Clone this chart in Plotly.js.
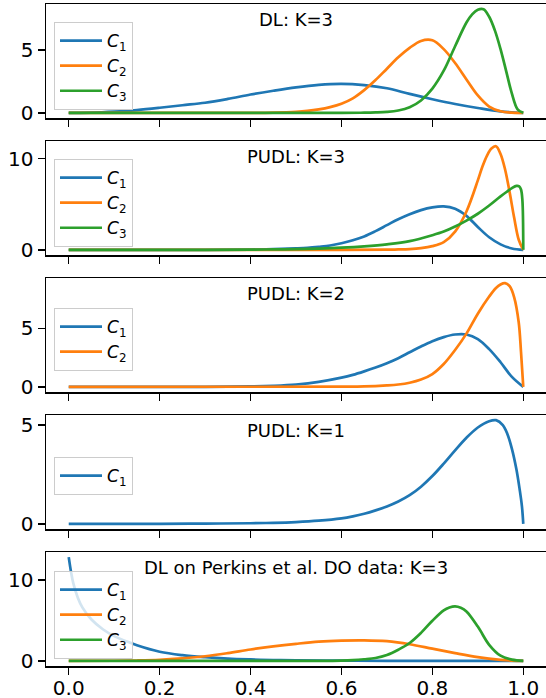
<!DOCTYPE html>
<html>
<head>
<meta charset="utf-8">
<script src="https://cdn.plot.ly/plotly-3.0.1.min.js"></script>
<style>html,body{margin:0;padding:0;background:#fff;}#chart{width:546px;height:698px;}</style>
</head>
<body>
<div id="chart"></div>
<script>
// ---------- Data ----------
const xTickVals = [0, 0.2, 0.4, 0.6, 0.8, 1.0];
const xTickText = ['0.0', '0.2', '0.4', '0.6', '0.8', '1.0'];
const seriesNames = ['<i>C</i><sub>1</sub>', '<i>C</i><sub>2</sub>', '<i>C</i><sub>3</sub>'];
const panelTitles = ['DL: K=3', 'PUDL: K=3', 'PUDL: K=2', 'PUDL: K=1', 'DL on Perkins et al. DO data: K=3'];
const yTickVals1 = [0, 5];
const yTickVals2 = [0, 10];
const yTickVals3 = [0, 5];
const yTickVals4 = [0, 5];
const yTickVals5 = [0, 10];

// Panel 1: DL K=3
const p1c1x = [0, 0.05, 0.1, 0.15, 0.2, 0.25, 0.3, 0.35, 0.4, 0.45, 0.5, 0.55, 0.6, 0.65, 0.7, 0.75, 0.8, 0.85, 0.9, 0.95, 1.0];
const p1c1y = [0, 0.01, 0.09, 0.22, 0.4, 0.6, 0.8, 1.1, 1.45, 1.75, 2.02, 2.22, 2.3, 2.2, 1.95, 1.5, 1.08, 0.7, 0.38, 0.11, 0];
const p1c2x = [0, 0.4, 0.45, 0.5, 0.525, 0.55, 0.575, 0.6, 0.625, 0.65, 0.675, 0.7, 0.725, 0.75, 0.775, 0.8, 0.825, 0.85, 0.875, 0.9, 0.925, 0.95, 0.975, 1.0];
const p1c2y = [0, 0, 0.02, 0.08, 0.15, 0.27, 0.45, 0.72, 1.15, 1.8, 2.6, 3.5, 4.4, 5.15, 5.7, 5.75, 5.05, 3.95, 2.65, 1.38, 0.5, 0.12, 0.01, 0];
const p1c3x = [0, 0.6, 0.65, 0.675, 0.7, 0.725, 0.75, 0.775, 0.8, 0.825, 0.85, 0.875, 0.8875, 0.9, 0.9125, 0.925, 0.9375, 0.95, 0.9625, 0.975, 0.9875, 1.0];
const p1c3y = [0, 0, 0.01, 0.03, 0.07, 0.18, 0.44, 0.98, 1.92, 3.34, 5.28, 7.16, 7.81, 8.18, 8.22, 7.62, 6.54, 5.05, 3.29, 1.52, 0.28, 0];

// Panel 2: PUDL K=3
const p2c1x = [0, 0.3, 0.4, 0.45, 0.5, 0.525, 0.55, 0.575, 0.6, 0.625, 0.65, 0.675, 0.7, 0.725, 0.75, 0.775, 0.8, 0.825, 0.85, 0.875, 0.9, 0.925, 0.95, 0.975, 1.0];
const p2c1y = [0, 0, 0.03, 0.08, 0.16, 0.22, 0.33, 0.47, 0.72, 1.05, 1.47, 2.05, 2.7, 3.35, 3.9, 4.35, 4.65, 4.76, 4.5, 3.72, 2.5, 1.38, 0.6, 0.15, 0];
const p2c2x = [0, 0.6, 0.7, 0.725, 0.75, 0.775, 0.8, 0.825, 0.85, 0.875, 0.9, 0.91, 0.92, 0.93, 0.94, 0.95, 0.96, 0.97, 0.98, 0.99, 1.0];
const p2c2y = [0, 0, 0.02, 0.04, 0.08, 0.18, 0.4, 0.85, 2.0, 4.2, 7.6, 9.1, 10.3, 11.1, 11.35, 10.5, 8.8, 6.3, 3.5, 1.1, 0];
const p2c3x = [0, 0.3, 0.4, 0.45, 0.5, 0.55, 0.6, 0.65, 0.7, 0.75, 0.8, 0.825, 0.85, 0.875, 0.9, 0.925, 0.95, 0.965, 0.975, 0.985, 0.991, 0.995, 0.998, 1.0];
const p2c3y = [0, 0, 0.02, 0.04, 0.07, 0.13, 0.23, 0.38, 0.6, 0.95, 1.6, 2.0, 2.55, 3.2, 3.95, 4.85, 5.85, 6.4, 6.75, 7.0, 6.95, 6.6, 5.5, 0];

// Panel 3: PUDL K=2
const p3c1x = [0, 0.3, 0.4, 0.45, 0.5, 0.55, 0.6, 0.625, 0.65, 0.675, 0.7, 0.725, 0.75, 0.775, 0.8, 0.825, 0.85, 0.875, 0.9, 0.925, 0.95, 0.975, 1.0];
const p3c1y = [0, 0, 0.03, 0.09, 0.2, 0.42, 0.78, 1.02, 1.32, 1.65, 2.02, 2.45, 2.95, 3.45, 3.9, 4.25, 4.47, 4.47, 4.08, 3.22, 2.1, 0.85, 0];
const p3c2x = [0, 0.6, 0.65, 0.7, 0.725, 0.75, 0.775, 0.8, 0.825, 0.85, 0.875, 0.9, 0.925, 0.94, 0.95, 0.96, 0.97, 0.98, 0.99, 0.995, 1.0];
const p3c2y = [0, 0.01, 0.03, 0.12, 0.2, 0.35, 0.62, 1.09, 1.95, 3.15, 4.55, 6.25, 7.72, 8.45, 8.75, 8.86, 8.6, 7.65, 5.5, 3.0, 0];

// Panel 4: PUDL K=1
const p4c1x = [0, 0.2, 0.3, 0.4, 0.45, 0.5, 0.55, 0.6, 0.625, 0.65, 0.675, 0.7, 0.725, 0.75, 0.775, 0.8, 0.825, 0.85, 0.875, 0.9, 0.925, 0.94, 0.955, 0.965, 0.975, 0.985, 0.992, 0.997, 1.0];
const p4c1y = [0, 0, 0.01, 0.03, 0.05, 0.09, 0.16, 0.28, 0.38, 0.51, 0.68, 0.88, 1.13, 1.45, 1.88, 2.42, 3.05, 3.72, 4.36, 4.88, 5.2, 5.25, 5.0, 4.55, 3.8, 2.75, 1.75, 0.9, 0];

// Panel 5: DL on Perkins et al. DO data K=3
const p5c1x = [0, 0.005, 0.01, 0.02, 0.03, 0.05, 0.075, 0.1, 0.125, 0.15, 0.2, 0.25, 0.3, 0.35, 0.4, 0.45, 0.5, 0.6, 0.7, 1.0];
const p5c1y = [12.8, 11.0, 9.6, 7.8, 6.6, 5.1, 3.9, 3.05, 2.45, 1.92, 1.12, 0.7, 0.45, 0.28, 0.17, 0.09, 0.05, 0.02, 0, 0];
const p5c2x = [0, 0.1, 0.15, 0.2, 0.25, 0.3, 0.35, 0.4, 0.45, 0.5, 0.55, 0.6, 0.65, 0.7, 0.75, 0.8, 0.85, 0.9, 0.95, 0.975, 1.0];
const p5c2y = [0, 0.01, 0.04, 0.12, 0.3, 0.56, 0.95, 1.4, 1.78, 2.1, 2.37, 2.5, 2.53, 2.42, 2.05, 1.5, 0.95, 0.45, 0.12, 0.03, 0];
const p5c3x = [0, 0.55, 0.6, 0.625, 0.65, 0.675, 0.7, 0.725, 0.75, 0.775, 0.8, 0.825, 0.8375, 0.85, 0.8625, 0.875, 0.9, 0.925, 0.95, 0.975, 1.0];
const p5c3y = [0, 0, 0.03, 0.08, 0.19, 0.35, 0.72, 1.37, 2.2, 3.45, 4.95, 6.23, 6.58, 6.72, 6.55, 6.1, 4.23, 1.98, 0.63, 0.14, 0];

// ---------- Assembly ----------
const panels = [
  {series: [[p1c1x, p1c1y], [p1c2x, p1c2y], [p1c3x, p1c3y]], yticks: yTickVals1, legOff: 18},
  {series: [[p2c1x, p2c1y], [p2c2x, p2c2y], [p2c3x, p2c3y]], yticks: yTickVals2, legOff: 18},
  {series: [[p3c1x, p3c1y], [p3c2x, p3c2y]], yticks: yTickVals3, legOff: 30},
  {series: [[p4c1x, p4c1y]], yticks: yTickVals4, legOff: 42},
  {series: [[p5c1x, p5c1y], [p5c2x, p5c2y], [p5c3x, p5c3y]], yticks: yTickVals5, legOff: 19}
];
const colors = ['#1f77b4', '#ff7f0e', '#2ca02c'];

const W = 546, H = 698;
const M = {l: 46, r: 0, t: 4, b: 32};
const plotH = H - M.t - M.b;
const panelH = 114, panelStep = 137;

const FONT = 'DejaVu Sans, sans-serif';
const TICK = 20;
const traces = [];
const layout = {
  width: W, height: H, margin: M,
  paper_bgcolor: '#fff', plot_bgcolor: '#fff',
  font: {family: FONT, size: 18, color: '#000'},
  showlegend: true,
  annotations: []
};

panels.forEach((p, i) => {
  const n = i + 1;
  const sfx = n === 1 ? '' : String(n);
  const top = 1 - (panelStep * i) / plotH;
  const bot = top - panelH / plotH;
  let ymax = 0;
  p.series.forEach(s => { ymax = Math.max(ymax, ...s[1]); });
  const legName = 'legend' + sfx;
  p.series.forEach((s, k) => {
    traces.push({
      x: s[0], y: s[1], type: 'scatter', mode: 'lines',
      line: {color: colors[k], width: 2.7, shape: 'spline', smoothing: 1},
      name: seriesNames[k], xaxis: 'x' + sfx, yaxis: 'y' + sfx,
      legend: legName, showlegend: true
    });
  });
  const xa = {
    domain: [0, 1], anchor: 'y' + sfx, range: [-0.05, 1.05],
    tickvals: xTickVals, ticktext: xTickText, showticklabels: n === 5,
    ticks: 'outside', ticklen: 7, tickwidth: 1.5, tickcolor: '#000',
    showline: true, mirror: true, linecolor: '#000', linewidth: 1.5,
    showgrid: false, zeroline: false,
    tickfont: {size: TICK, family: FONT, color: '#000'}
  };
  if (n > 1) xa.matches = 'x';
  if (n === 5) xa.ticklabelstandoff = -4;
  layout['xaxis' + sfx] = xa;
  layout['yaxis' + sfx] = {
    domain: [bot, top], anchor: 'x' + sfx, range: [-0.05 * ymax, 1.05 * ymax],
    tickvals: p.yticks, ticks: 'outside', ticklen: 7, tickwidth: 1.5, tickcolor: '#000',
    showline: true, mirror: true, linecolor: '#000', linewidth: 1.5,
    showgrid: false, zeroline: false,
    tickfont: {size: TICK, family: FONT, color: '#000'}
  };
  layout[legName] = {
    x: 8 / 500, xanchor: 'left', y: top - p.legOff / plotH, yanchor: 'top',
    bgcolor: 'rgba(255,255,255,0.8)', bordercolor: '#cccccc', borderwidth: 1,
    font: {size: 17, family: FONT, color: '#000'}, itemwidth: 42
  };
  layout.annotations.push({
    text: panelTitles[i], xref: 'paper', x: 0.5, xanchor: 'center',
    yref: 'y' + sfx + ' domain', y: 1, yanchor: 'top', yshift: -3,
    showarrow: false, font: {size: 18, family: FONT, color: '#000'}
  });
});

Plotly.newPlot('chart', traces, layout, {displayModeBar: false, staticPlot: true});
</script>
</body>
</html>
